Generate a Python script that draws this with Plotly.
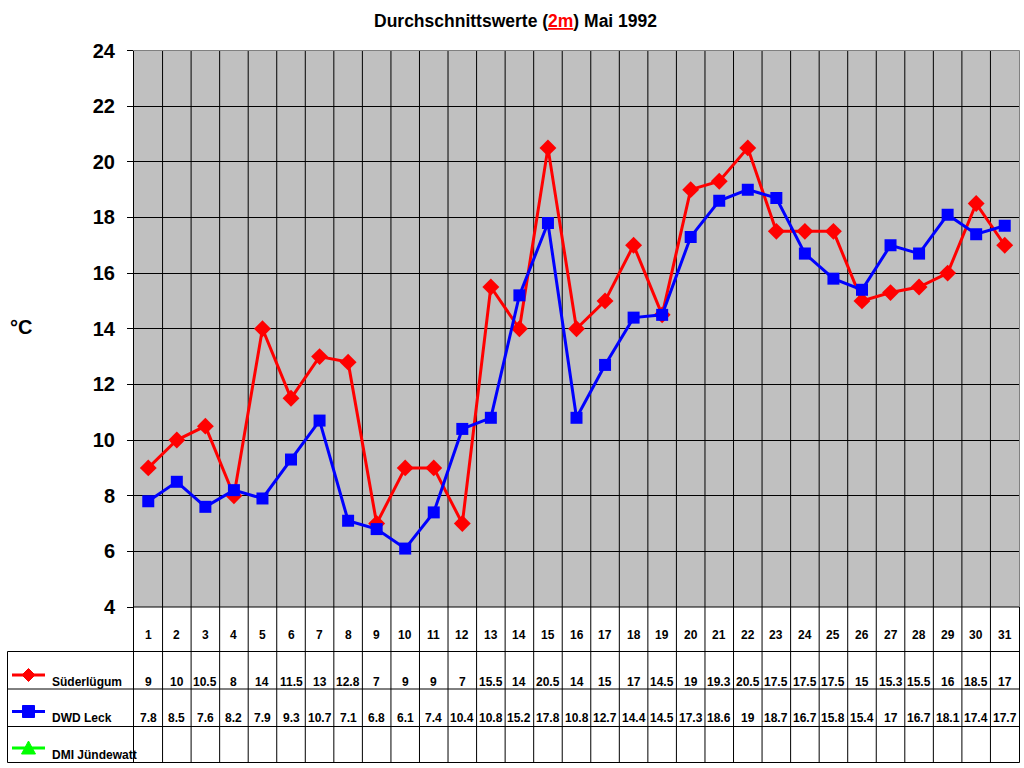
import plotly.graph_objects as go

# ---------------- data ----------------
days = list(range(1, 32))
suderlugum = [9, 10, 10.5, 8, 14, 11.5, 13, 12.8, 7, 9, 9, 7, 15.5, 14, 20.5, 14, 15, 17, 14.5,
              19, 19.3, 20.5, 17.5, 17.5, 17.5, 15, 15.3, 15.5, 16, 18.5, 17]
dwd_leck = [7.8, 8.5, 7.6, 8.2, 7.9, 9.3, 10.7, 7.1, 6.8, 6.1, 7.4, 10.4, 10.8, 15.2, 17.8, 10.8,
            12.7, 14.4, 14.5, 17.3, 18.6, 19, 18.7, 16.7, 15.8, 15.4, 17, 16.7, 18.1, 17.4, 17.7]
dmi_jundewatt = [None] * 31
series_names = ["Süderlügum", "DWD Leck", "DMI Jündewatt"]
series_colors = ["#FF0000", "#0000FF", "#00FF00"]
y_ticks = list(range(4, 25, 2))
title_text = "Durchschnittswerte (<span style='color:#FF0000;text-decoration:underline'>2m</span>) Mai 1992"
y_unit = "°C"

# ---------------- layout helpers ----------------
W, H = 1024, 768
def px(x):
    return x / W
def py(y):
    return 1 - y / H

FONT = "Liberation Sans, Arial, sans-serif"
L, R, T, B = 134, 1019, 50.5, 607
TB = 762.5  # table bottom
row_lines = [651.5, 689, 726.5, 762.5]
row_text_y = [681.5, 718, 755]

fig = go.Figure()
fig.add_trace(go.Scatter(x=days, y=suderlugum, mode="lines+markers", name=series_names[0],
                         line=dict(color=series_colors[0], width=3),
                         marker=dict(symbol="diamond", size=13, color=series_colors[0])))
fig.add_trace(go.Scatter(x=days, y=dwd_leck, mode="lines+markers", name=series_names[1],
                         line=dict(color=series_colors[1], width=3),
                         marker=dict(symbol="square", size=12, color=series_colors[1])))
fig.add_trace(go.Scatter(x=days, y=dmi_jundewatt, mode="lines+markers", name=series_names[2],
                         line=dict(color=series_colors[2], width=3),
                         marker=dict(symbol="triangle-up", size=12, color=series_colors[2])))

shapes = []
# vertical category boundaries through plot and table
for d in days[:-1]:
    shapes.append(dict(type="line", xref="x", yref="paper", x0=d + 0.5, x1=d + 0.5,
                       y0=py(TB), y1=py(T), line=dict(color="black", width=1), layer="below"))
# left axis line (plot + table)
shapes.append(dict(type="line", xref="paper", yref="paper", x0=px(L - 0.5), x1=px(L - 0.5),
                   y0=py(TB), y1=py(T), line=dict(color="black", width=1), layer="above"))
# bottom of plot
shapes.append(dict(type="line", xref="paper", yref="paper", x0=px(L - 0.5), x1=px(R),
                   y0=py(B), y1=py(B), line=dict(color="black", width=1), layer="above"))
# gray top / right border of plot
shapes.append(dict(type="line", xref="paper", yref="paper", x0=px(L), x1=px(R + 0.5),
                   y0=py(T), y1=py(T), line=dict(color="#808080", width=1), layer="above"))
shapes.append(dict(type="line", xref="paper", yref="paper", x0=px(R + 0.5), x1=px(R + 0.5),
                   y0=py(B), y1=py(T), line=dict(color="#808080", width=1), layer="above"))
# right border of table
shapes.append(dict(type="line", xref="paper", yref="paper", x0=px(R + 0.5), x1=px(R + 0.5),
                   y0=py(TB), y1=py(B), line=dict(color="black", width=1), layer="above"))
# table rows
for yy in row_lines:
    shapes.append(dict(type="line", xref="paper", yref="paper", x0=px(7.5), x1=px(R + 0.5),
                       y0=py(yy), y1=py(yy), line=dict(color="black", width=1), layer="above"))
shapes.append(dict(type="line", xref="paper", yref="paper", x0=px(7.5), x1=px(7.5),
                   y0=py(row_lines[0]), y1=py(TB), line=dict(color="black", width=1), layer="above"))

# legend symbols in table
sym_y = [675, 711.5, 748]
for i, c in enumerate(series_colors):
    yy = sym_y[i]
    shapes.append(dict(type="line", xref="paper", yref="paper", x0=px(12), x1=px(45),
                       y0=py(yy), y1=py(yy), line=dict(color=c, width=3), layer="above"))
    cx = 28.5
    if i == 0:
        pts = [(cx, yy - 6.5), (cx + 6.5, yy), (cx, yy + 6.5), (cx - 6.5, yy)]
    elif i == 1:
        pts = [(cx - 6, yy - 6), (cx + 6, yy - 6), (cx + 6, yy + 6), (cx - 6, yy + 6)]
    else:
        pts = [(cx, yy - 7), (cx + 7, yy + 6), (cx - 7, yy + 6)]
    path = "M " + " L ".join(f"{px(a)},{py(b)}" for a, b in pts) + " Z"
    shapes.append(dict(type="path", xref="paper", yref="paper", path=path,
                       fillcolor=c, line=dict(color=c, width=1), layer="above"))

ann = []
ann.append(dict(text=title_text, x=px(515), y=py(21), xref="paper", yref="paper",
                xanchor="center", yanchor="middle", showarrow=False,
                font=dict(family=FONT, size=17.5, color="black", weight="bold")))
ann.append(dict(text=y_unit, x=px(8), y=py(327), xref="paper", yref="paper",
                xanchor="left", yanchor="middle", showarrow=False,
                font=dict(family=FONT, size=20, color="black", weight="bold")))
tfont = dict(family=FONT, size=12, color="black", weight="bold")
for d in days:
    ann.append(dict(text=str(d), x=d, y=py(635), xref="x", yref="paper",
                    xanchor="center", yanchor="middle", showarrow=False, font=tfont))
for row, vals in enumerate([suderlugum, dwd_leck, dmi_jundewatt]):
    for d, v in zip(days, vals):
        if v is None:
            continue
        ann.append(dict(text=f"{v:g}", x=d, y=py(row_text_y[row]), xref="x", yref="paper",
                        xanchor="center", yanchor="middle", showarrow=False, font=tfont))
    ann.append(dict(text=series_names[row], x=px(50), y=py(row_text_y[row]), xref="paper", yref="paper",
                    xanchor="left", yanchor="middle", showarrow=False, font=tfont))

fig.update_layout(
    width=W, height=H, autosize=False,
    margin=dict(l=0, r=0, t=0, b=0, pad=0, autoexpand=False),
    paper_bgcolor="white", plot_bgcolor="#C0C0C0",
    showlegend=False,
    shapes=shapes, annotations=ann,
    xaxis=dict(domain=[px(L), px(R)], range=[0.5, 31.5], showgrid=False, zeroline=False,
               showline=False, showticklabels=False, ticks="", fixedrange=True, automargin=False),
    yaxis=dict(domain=[py(B), py(T)], range=[4, 24], tickvals=y_ticks, showgrid=True,
               gridcolor="black", gridwidth=1, zeroline=False, showline=False,
               ticks="outside", ticklen=6, tickcolor="black", tickwidth=1,
               ticklabelstandoff=8, automargin=False,
               tickfont=dict(family=FONT, size=20, color="black", weight="bold"), fixedrange=True),
)

fig.write_html("out.html", config={"displayModeBar": False},
               post_script="document.body.style.margin='0';document.body.style.overflow='hidden';")
